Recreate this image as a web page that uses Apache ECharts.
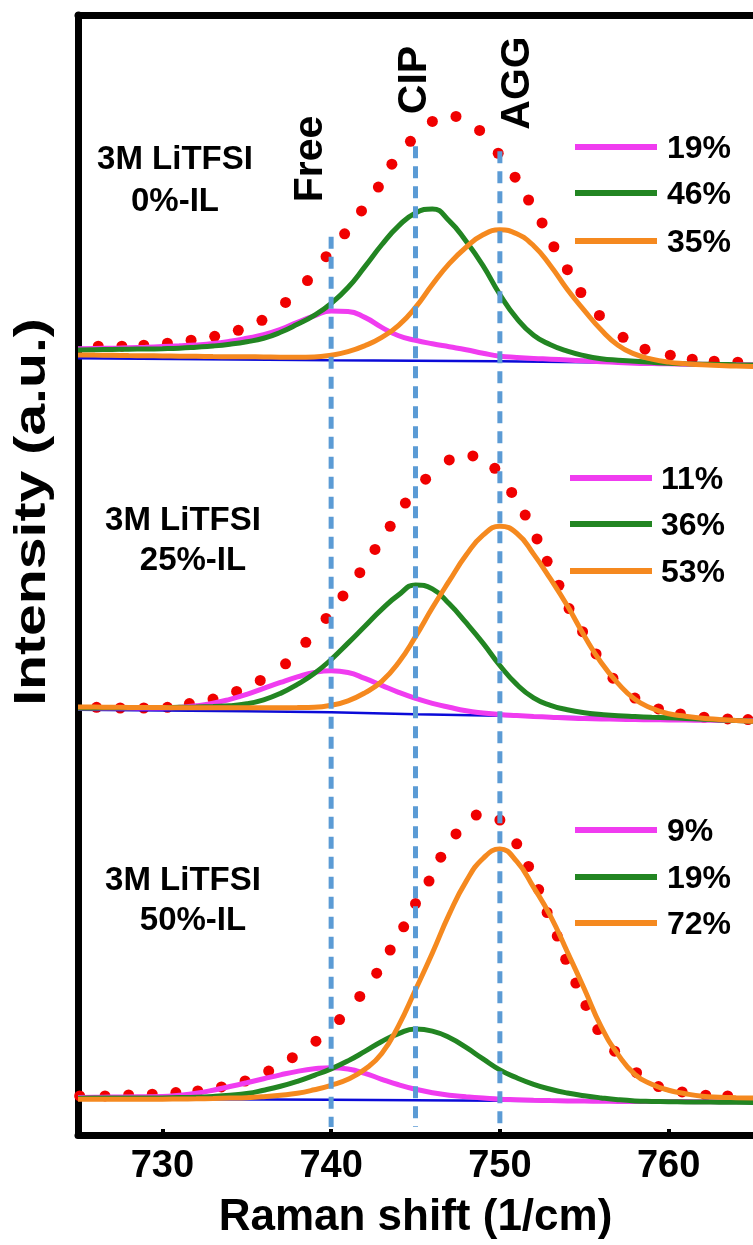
<!DOCTYPE html>
<html>
<head>
<meta charset="utf-8">
<script src="https://cdn.jsdelivr.net/npm/echarts/dist/echarts.min.js"></script>
<style>
  html, body { margin: 0; padding: 0; background: #fff; }
  #chart { width: 753px; height: 1245px; }
</style>
</head>
<body>
<div id="chart"></div>
<script>
// Raman S-N-S band of TFSI (725-765 1/cm), fitted into Free / CIP / AGG components.
// Three spectra stacked with a vertical offset; intensity in arbitrary units.

const tickValues = [730, 740, 750, 760];
const bandNames = ['Free', 'CIP', 'AGG'];
const bandCenters = [740, 745, 750];
const bandGuideTops = [90.3, 99.4, 98.9];

// wavenumbers at which the fitted components are listed
const waveGrid = [725,726,727,728,729,730,731,732,733,734,735,736,737,738,739,740,741,742,743,744,745,746,747,748,749,750,751,752,753,754,755,756,757,758,759,760,761,762,763,764,765];

// ---- 3M LiTFSI, 0%-IL ----
const measured0 = [[726.2,79.3],[727.6,79.3],[728.9,79.4],[730.3,79.6],[731.7,79.9],[733.1,80.3],[734.5,80.9],[735.9,81.9],[737.3,83.7],[738.6,85.9],[739.7,88.3],[740.8,90.6],[741.8,92.9],[742.8,95.3],[743.6,97.6],[744.7,99.9],[746.0,101.9],[747.4,102.4],[748.8,101.0],[749.9,98.7],[750.9,96.3],[751.7,94.0],[752.5,91.7],[753.2,89.3],[754.0,87.0],[754.8,84.7],[755.9,82.4],[757.3,80.2],[758.6,79.0],[760.1,78.4],[761.4,78.0],[762.7,77.8],[764.1,77.7]];
const free0 = [79.05,79.08,79.1,79.15,79.2,79.27,79.34,79.43,79.57,79.8,80.1,80.45,81.0,81.7,82.35,82.85,82.8,82.2,81.2,80.35,79.9,79.55,79.25,78.95,78.6,78.3,78.17,78.07,78.0,77.92,77.83,77.75,77.67,77.6,77.56,77.53,77.5,77.48,77.46,77.45,77.43];
const cip0 = [78.93,78.95,78.97,79.0,79.02,79.05,79.1,79.2,79.32,79.5,79.75,80.1,80.7,81.5,82.4,83.6,85.2,87.3,89.5,91.4,92.7,93.1,91.9,89.85,87.4,84.5,82.1,80.4,79.45,78.8,78.35,78.05,77.9,77.8,77.68,77.58,77.53,77.5,77.47,77.44,77.42];
const agg0 = [78.43,78.41,78.39,78.36,78.34,78.32,78.3,78.28,78.26,78.25,78.24,78.22,78.2,78.2,78.22,78.4,78.75,79.35,80.2,81.4,83.2,85.5,87.6,89.25,90.5,91.0,90.6,89.4,87.4,85.0,82.9,80.95,79.4,78.5,78.0,77.7,77.55,77.43,77.36,77.3,77.27];
const base0 = [[725,78.1],[740,77.9],[750,77.8],[760,77.6],[765,77.45]];
const shares0 = [19, 46, 35];

// ---- 3M LiTFSI, 25%-IL ----
const measured25 = [[726.1,43.0],[727.5,42.93],[728.9,42.93],[730.3,43.0],[731.6,43.37],[733.0,43.83],[734.4,44.6],[735.8,45.7],[737.3,47.37],[738.5,49.53],[739.7,51.93],[740.7,54.2],[741.7,56.53],[742.6,58.87],[743.5,61.2],[744.4,63.53],[745.6,65.93],[747.0,67.87],[748.4,68.27],[749.7,67.03],[750.7,64.6],[751.5,62.33],[752.2,59.93],[752.8,57.67],[753.5,55.27],[754.1,52.93],[754.9,50.6],[755.7,48.37],[756.7,45.93],[758.0,43.93],[759.4,42.83],[760.7,42.33],[762.1,42.0],[763.5,41.83],[764.7,41.77]];
const free25 = [42.93,42.93,42.93,42.93,42.93,42.93,43.0,43.15,43.4,43.8,44.3,44.9,45.5,46.05,46.5,46.67,46.5,45.9,45.2,44.5,43.9,43.4,43.0,42.65,42.43,42.27,42.17,42.08,42.0,41.92,41.87,41.83,41.8,41.77,41.75,41.73,41.71,41.7,41.68,41.66,41.65];
const cip25 = [42.93,42.94,42.95,42.96,42.97,42.97,43.0,43.03,43.08,43.15,43.35,43.75,44.4,45.3,46.4,47.8,49.45,51.15,52.85,54.3,55.3,54.9,53.4,51.5,49.45,47.2,45.3,43.95,43.2,42.75,42.45,42.28,42.15,42.07,42.0,41.95,41.88,41.8,41.73,41.66,41.6];
const agg25 = [43.03,43.02,43.0,42.99,42.98,42.97,42.96,42.96,42.95,42.95,42.95,42.95,42.96,42.97,43.0,43.2,43.65,44.45,45.6,47.5,50.1,53.0,55.7,58.3,60.3,61.2,60.5,58.4,55.9,53.2,50.2,47.5,45.4,43.8,42.9,42.35,42.1,41.9,41.78,41.68,41.6];
const base25 = [[725,42.75],[735,42.6],[740,42.5],[745,42.3],[750,42.15],[755,42.0],[765,41.75]];
const shares25 = [11, 36, 53];

// ---- 3M LiTFSI, 50%-IL ----
const measured50 = [[725.1,3.93],[726.6,3.93],[728.0,4.03],[729.4,4.1],[730.8,4.27],[732.1,4.43],[733.5,4.83],[734.9,5.43],[736.3,6.43],[737.7,7.77],[739.1,9.43],[740.5,11.6],[741.7,13.93],[742.7,16.27],[743.5,18.6],[744.3,20.93],[745.0,23.27],[745.8,25.53],[746.5,27.93],[747.4,30.27],[748.6,32.17],[750.0,31.67],[751.0,29.27],[751.7,27.0],[752.3,24.67],[752.8,22.37],[753.4,20.0],[753.9,17.67],[754.5,15.27],[755.1,13.03],[755.8,10.6],[756.8,8.43],[758.1,6.27],[759.4,4.87],[760.8,4.33],[762.2,4.0],[763.5,3.93]];
const free50 = [3.77,3.79,3.81,3.83,3.85,3.87,4.0,4.2,4.5,4.87,5.25,5.65,6.05,6.4,6.65,6.77,6.63,6.2,5.6,5.05,4.6,4.25,4.0,3.85,3.72,3.6,3.55,3.5,3.46,3.43,3.41,3.4,3.38,3.37,3.37,3.36,3.36,3.35,3.35,3.35,3.35];
const cip50 = [3.7,3.71,3.71,3.72,3.72,3.73,3.76,3.8,3.88,4.0,4.17,4.5,4.9,5.4,6.0,6.65,7.45,8.4,9.4,10.2,10.65,10.45,9.8,8.8,7.65,6.55,5.75,5.1,4.6,4.22,3.95,3.73,3.55,3.43,3.38,3.35,3.33,3.32,3.3,3.28,3.27];
const agg50 = [3.6,3.6,3.6,3.6,3.6,3.6,3.62,3.64,3.67,3.71,3.75,3.85,4.0,4.2,4.55,5.0,5.6,6.6,8.2,11.0,14.6,18.3,22.2,25.5,27.8,28.75,27.5,24.9,22.0,18.4,14.7,10.9,8.1,6.1,5.1,4.5,4.15,3.9,3.8,3.75,3.72];
const base50 = [[725,3.65],[740,3.55],[750,3.45],[765,3.3]];
const shares50 = [9, 19, 72];

const sampleLines = [['3M LiTFSI', '0%-IL'], ['3M LiTFSI', '25%-IL'], ['3M LiTFSI', '50%-IL']];

// ---- styling ----
const FONT = '"Liberation Sans", Arial, Helvetica, sans-serif';
const C_FREE = '#f03cf0', C_CIP = '#228522', C_AGG = '#f5891f';
const C_BASE = '#0b0bd8', C_DOTS = '#f00000', C_GUIDE = '#5b9bd5';
const compColors = [C_FREE, C_CIP, C_AGG];

const panels = [
  { measured: measured0,  base: base0,  comps: [free0, cip0, agg0],    shares: shares0 },
  { measured: measured25, base: base25, comps: [free25, cip25, agg25], shares: shares25 },
  { measured: measured50, base: base50, comps: [free50, cip50, agg50], shares: shares50 }
];

const withGrid = (vals) => vals.map((v, j) => [waveGrid[j], v]);

const series = [];
panels.forEach((p, i) => {
  series.push({
    type: 'scatter', name: 'measured-' + i, data: p.measured,
    symbol: 'circle', symbolSize: 11, itemStyle: { color: C_DOTS, opacity: 1 }, z: 1, silent: true
  });
  series.push({
    type: 'line', name: 'baseline-' + i, data: p.base, showSymbol: false, symbol: 'none',
    lineStyle: { color: C_BASE, width: 2.5 }, z: 2, silent: true
  });
  p.comps.forEach((c, k) => {
    series.push({
      type: 'line', name: bandNames[k] + '-' + i, data: withGrid(c), smooth: 0.5, showSymbol: false, symbol: 'none',
      lineStyle: { color: compColors[k], width: 5 }, z: 3 + k, silent: true
    });
  });
});
bandCenters.forEach((x, k) => {
  series.push({
    type: 'line', name: 'guide-' + bandNames[k], data: [[x, bandGuideTops[k]], [x, 0.8]],
    showSymbol: false, symbol: 'none',
    lineStyle: { color: C_GUIDE, width: 5, type: [12, 8] }, z: 10, silent: true
  });
});

// ---- annotations ----
const graphics = [];
// y-axis title
graphics.push({
  type: 'text', x: 33, y: 512, rotation: Math.PI / 2, scaleX: 1.3,
  style: { text: 'Intensity (a.u.)', font: 'bold 44px ' + FONT, fill: '#000', align: 'center', verticalAlign: 'middle' }
});
// band labels above the guides
const bandLabelPos = [[311, 159], [415, 80], [518, 83]];
bandNames.forEach((n, k) => {
  graphics.push({
    type: 'text', x: bandLabelPos[k][0], y: bandLabelPos[k][1], rotation: Math.PI / 2,
    style: { text: n, font: 'bold 41px ' + FONT, fill: '#000', align: 'center', verticalAlign: 'middle' }
  });
});
// sample names
const sampleLabelPos = [[[175, 160], [175, 202]], [[183, 521], [193, 561]], [[183, 881], [193, 921]]];
sampleLines.forEach((lines, i) => {
  lines.forEach((t, j) => {
    graphics.push({
      type: 'text', x: sampleLabelPos[i][j][0], y: sampleLabelPos[i][j][1],
      style: { text: t, font: 'bold 33px ' + FONT, fill: '#000', align: 'center', verticalAlign: 'middle' }
    });
  });
});
// component keys with area fractions
const keyPos = [{ x: 575, t: 667, ys: [147, 193, 241] }, { x: 570, t: 661, ys: [478, 524, 571] }, { x: 575, t: 667, ys: [830, 877, 923] }];
panels.forEach((p, i) => {
  const kp = keyPos[i];
  p.shares.forEach((s, k) => {
    graphics.push({
      type: 'line', shape: { x1: kp.x, y1: kp.ys[k], x2: kp.x + 82, y2: kp.ys[k] },
      style: { stroke: compColors[k], lineWidth: 6 }
    });
    graphics.push({
      type: 'text', x: kp.t, y: kp.ys[k] + 2,
      style: { text: s + '%', font: 'bold 32px ' + FONT, fill: '#000', align: 'left', verticalAlign: 'middle' }
    });
  });
});

const chart = echarts.init(document.getElementById('chart'), null, { renderer: 'canvas' });
chart.setOption({
  animation: false,
  backgroundColor: '#fff',
  grid: { left: 78, right: -4, top: 15, bottom: 104, containLabel: false },
  xAxis: [
    {
      type: 'value', position: 'bottom', min: 725, max: 765,
      name: 'Raman shift (1/cm)', nameLocation: 'middle', nameGap: 61,
      nameTextStyle: { fontSize: 44, fontWeight: 'bold', color: '#000', fontFamily: FONT },
      axisLine: { show: true, onZero: false, lineStyle: { color: '#000', width: 7, cap: 'round' } },
      axisTick: { show: true, inside: true, length: 6, customValues: tickValues, lineStyle: { color: '#000', width: 4 } },
      axisLabel: { show: true, customValues: tickValues, margin: 13, fontSize: 38, fontWeight: 'bold', color: '#000', fontFamily: FONT },
      splitLine: { show: false }
    },
    {
      type: 'value', position: 'top', min: 725, max: 765,
      axisLine: { show: true, onZero: false, lineStyle: { color: '#000', width: 7, cap: 'round' } },
      axisTick: { show: false }, axisLabel: { show: false }, splitLine: { show: false }
    }
  ],
  yAxis: {
    type: 'value', min: 0, max: 112.6,
    axisLine: { show: true, onZero: false, lineStyle: { color: '#000', width: 7, cap: 'round' } },
    axisTick: { show: false }, axisLabel: { show: false }, splitLine: { show: false }
  },
  series: series,
  graphic: graphics
});
</script>
</body>
</html>
